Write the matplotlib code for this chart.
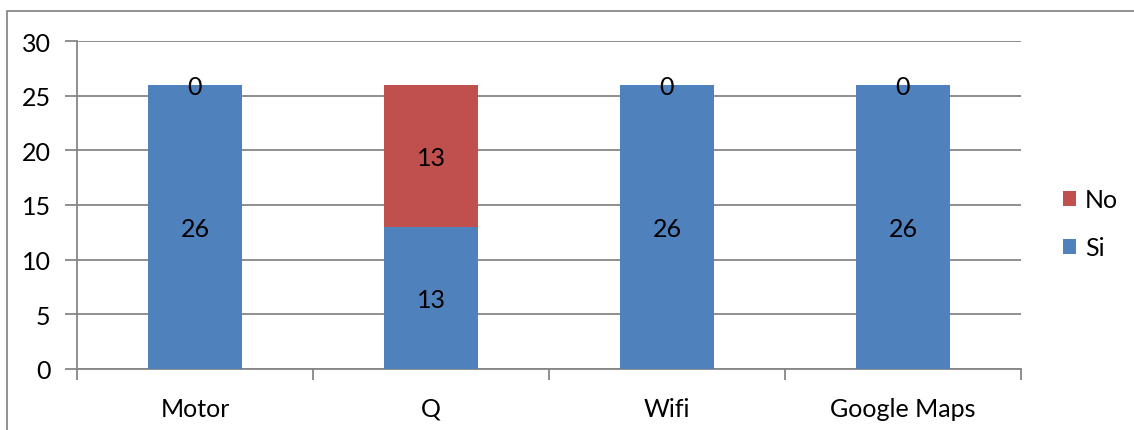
import numpy as np
import matplotlib
matplotlib.use("Agg")
import matplotlib.pyplot as plt
from matplotlib.patches import Rectangle

plt.rcParams['font.family'] = ['Lato', 'DejaVu Sans']

categories = ['Motor', 'Q', 'Wifi', 'Google Maps']
si_vals = [26, 13, 26, 26]
no_vals = [0, 13, 0, 0]

blue = '#4F81BD'
red = '#C0504D'
gridc = '#868686'
fs = 18

fig = plt.figure(figsize=(11.34, 4.31), dpi=100)
ax = fig.add_axes([77/1134, 1 - 370/431, (1021 - 77)/1134, (370 - 42)/431])

# outer chart frame
fig.patches.append(Rectangle((7/1134, -0.1), 1.2, 1 - 12/431 + 0.1,
                             transform=fig.transFigure, fill=False,
                             edgecolor='#7f7f7f', linewidth=1.2))

x = np.arange(len(categories))
w = 0.4
ax.bar(x, si_vals, w, color=blue, label='Si', zorder=3)
ax.bar(x, no_vals, w, bottom=si_vals, color=red, label='No', zorder=3)

for i in range(len(categories)):
    ax.text(x[i], si_vals[i] / 2, str(si_vals[i]), ha='center', va='center_baseline',
            fontsize=fs, color='black', zorder=4)
    ax.text(x[i], si_vals[i] + no_vals[i] / 2, str(no_vals[i]), ha='center',
            va='center_baseline', fontsize=fs, color='black', zorder=4)

ax.set_xlim(-0.5, len(categories) - 0.5)
ax.set_ylim(0, 30)
ax.set_yticks(range(0, 31, 5))
ax.yaxis.grid(True, color=gridc, linewidth=1.3, zorder=0)
ax.set_axisbelow(True)

for s in ['top', 'right']:
    ax.spines[s].set_visible(False)
for s in ['left', 'bottom']:
    ax.spines[s].set_color(gridc)
    ax.spines[s].set_linewidth(1.3)

ax.set_xticks(np.arange(-0.5, len(categories), 1.0))
ax.set_xticklabels([])
ax.set_xticks(x, minor=True)
ax.set_xticklabels(categories, minor=True, fontsize=fs)
ax.tick_params(axis='x', which='major', length=8, width=1.3, color=gridc, direction='out')
ax.tick_params(axis='x', which='minor', length=0, pad=20)
ax.tick_params(axis='y', length=9, width=1.3, color=gridc, labelsize=fs, pad=10)

handles, labels = ax.get_legend_handles_labels()
fig.legend(handles[::-1], labels[::-1], loc='center left',
           bbox_to_anchor=(1040/1134, 1 - 225/431), frameon=False,
           fontsize=fs, handlelength=0.55, handleheight=0.55,
           handletextpad=0.35, labelspacing=1.0)

fig.savefig('out.png', dpi=100)
